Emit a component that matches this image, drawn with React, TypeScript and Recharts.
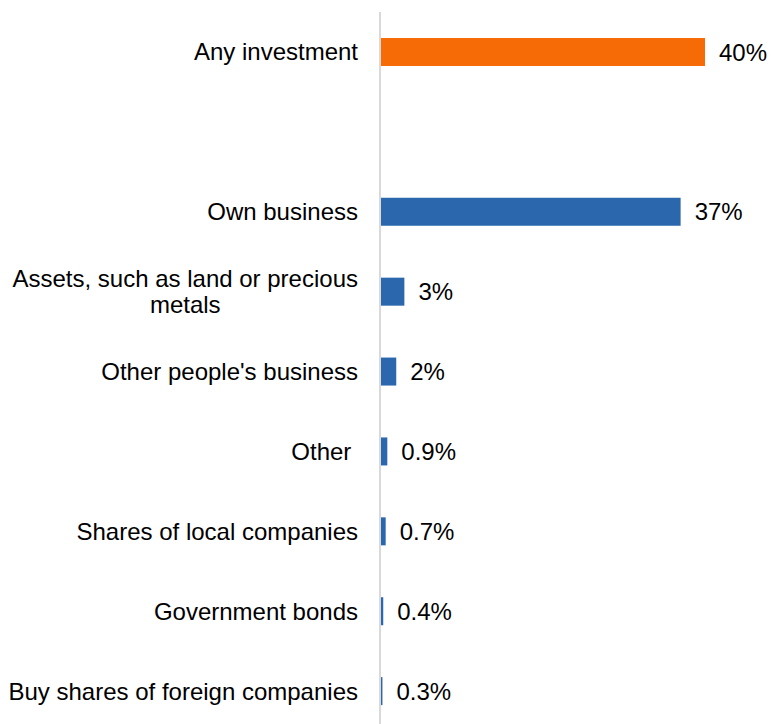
import { BarChart, Bar, XAxis, YAxis, Cell, LabelList } from "recharts";

const categories = [
  "Any investment",
  "",
  "Own business",
  "Assets, such as land or precious\nmetals",
  "Other people's business",
  "Other ",
  "Shares of local companies",
  "Government bonds",
  "Buy shares of foreign companies",
];

const values: (number | null)[] = [40, null, 37, 3, 2, 0.9, 0.7, 0.4, 0.3];

const valueLabels = ["40%", "", "37%", "3%", "2%", "0.9%", "0.7%", "0.4%", "0.3%"];

const highlighted = [true, false, false, false, false, false, false, false, false];

const data = categories.map((name, i) => ({
  name,
  value: values[i],
  label: valueLabels[i],
  highlight: highlighted[i],
}));

const FONT = "'Liberation Sans', Arial, sans-serif";
const FONT_SIZE = 24;

function measure(text: string) {
  const ctx = document.createElement("canvas").getContext("2d");
  if (!ctx) return text.length * FONT_SIZE * 0.5;
  ctx.font = `${FONT_SIZE}px ${FONT}`;
  return ctx.measureText(text).width;
}

function CategoryTick(props: any) {
  const { x, y, payload } = props;
  const lines = String(payload.value).split("\n");
  if (lines.length === 1) {
    return (
      <text
        x={x}
        y={y}
        dy="0.355em"
        textAnchor="end"
        fontSize={FONT_SIZE}
        fontFamily={FONT}
        fill="#000"
        style={{ whiteSpace: "pre" }}
      >
        {lines[0]}
      </text>
    );
  }
  // wrapped label: lines centred under the widest one
  const widest = Math.max(...lines.map(measure));
  const cx = x - widest / 2;
  const lineHeight = 26.7;
  const startY = y - ((lines.length - 1) * lineHeight) / 2;
  return (
    <text textAnchor="middle" fontSize={FONT_SIZE} fontFamily={FONT} fill="#000">
      {lines.map((line, i) => (
        <tspan key={i} x={cx} y={startY + i * lineHeight} dy="0.355em">
          {line}
        </tspan>
      ))}
    </text>
  );
}

export default function App() {
  return (
    <div
      style={{
        position: "fixed",
        left: 0,
        top: 0,
        width: 772,
        height: 724,
        overflow: "hidden",
        background: "#fff",
      }}
    >
      <BarChart
        width={772}
        height={731}
        data={data}
        layout="vertical"
        margin={{ top: 12, right: 67, bottom: 0, left: 0 }}
      >
        <XAxis type="number" domain={[0, 40]} hide />
        <YAxis
          type="category"
          dataKey="name"
          width={380}
          tickLine={false}
          tickSize={0}
          tickMargin={22}
          axisLine={{ stroke: "#d9d9d9", strokeWidth: 2 }}
          tick={<CategoryTick />}
          interval={0}
        />
        <Bar dataKey="value" barSize={28} isAnimationActive={false}>
          {data.map((d, i) => (
            <Cell key={i} fill={d.highlight ? "#f66b05" : "#2a67ad"} />
          ))}
          <LabelList
            dataKey="label"
            position="right"
            offset={14}
            fontSize={FONT_SIZE}
            fontFamily={FONT}
            fill="#000"
          />
        </Bar>
      </BarChart>
    </div>
  );
}
